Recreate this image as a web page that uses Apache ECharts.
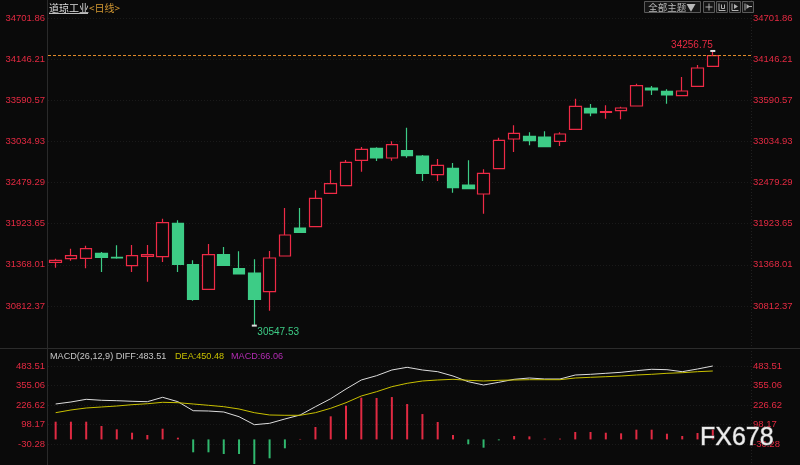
<!DOCTYPE html>
<html><head><meta charset="utf-8">
<script src="https://cdn.jsdelivr.net/npm/echarts@6/dist/echarts.min.js"></script>
<style>html,body{margin:0;padding:0;background:#0a0a0a}#c{width:800px;height:465px}</style>
</head><body><div id="c"></div><script>
// ---- data ----
const open  = [31402.6, 31451.2, 31456.6, 31524.1, 31470.1, 31356.6, 31483.6, 31478.2, 31929.3, 31370.2, 31037.9, 31505.2, 31316.2, 31258.1, 31005.6, 31487.7, 31865.9, 31883.4, 32334.5, 32437.1, 32780.1, 32942.2, 32811.2, 32909.8, 32838.2, 32585.6, 32672.1, 32446.6, 32325.0, 32666.7, 33067.8, 33104.3, 33094.8, 33036.7, 33198.8, 33482.4, 33428.4, 33449.9, 33513.4, 33756.5, 33711.9, 33652.5, 33779.5, 34049.6];
const close = [31429.6, 31491.7, 31586.3, 31470.1, 31460.6, 31491.7, 31505.2, 31937.4, 31375.6, 30902.9, 31505.2, 31362.1, 31244.6, 30902.9, 31460.6, 31771.3, 31807.8, 32267.0, 32464.1, 32753.1, 32928.6, 32811.2, 32990.8, 32842.2, 32604.6, 32712.6, 32410.1, 32396.6, 32604.6, 33050.2, 33144.8, 33044.8, 32963.8, 33135.3, 33509.4, 33418.9, 33436.5, 33486.4, 33787.6, 33729.5, 33662.0, 33716.0, 34026.6, 34192.7];
const low   = [31329.7, 31424.2, 31321.5, 31271.6, 31451.2, 31271.6, 31140.6, 31406.6, 31271.6, 30884.0, 31030.0, 31355.0, 31240.0, 30547.53, 30749.0, 31480.0, 31800.0, 31875.0, 32330.0, 32430.0, 32626.2, 32770.7, 32774.7, 32815.3, 32500.6, 32500.6, 32342.6, 32390.0, 32058.9, 32660.0, 32892.2, 32982.7, 32960.0, 32973.3, 33195.0, 33374.3, 33341.9, 33333.8, 33510.0, 33662.0, 33544.5, 33648.0, 33775.0, 34045.0];
const high  = [31451.2, 31586.3, 31626.8, 31541.7, 31632.2, 31636.3, 31636.3, 31991.4, 31969.8, 31429.6, 31649.7, 31609.3, 31551.2, 31443.2, 31555.2, 32135.9, 32135.9, 32375.0, 32649.1, 32784.2, 32959.8, 32955.7, 33036.7, 33220.4, 32851.7, 32797.7, 32743.7, 32780.1, 32658.6, 33085.4, 33252.8, 33158.2, 33171.8, 33158.2, 33612.0, 33540.4, 33522.9, 33504.0, 33814.6, 33783.5, 33739.0, 33905.1, 34067.1, 34256.75];

const diff = [233.2, 246.4, 264, 257.6, 255, 251, 248.4, 277.3, 248.4, 189, 187, 180.5, 149.5, 96.9, 106, 134.4, 160.8, 215.4, 268, 332, 391.3, 419.6, 457.2, 474.9, 457.2, 446, 417.6, 380.1, 358.4, 376.1, 395.9, 404.5, 397.9, 397.9, 424.2, 428.8, 435.4, 442, 452.6, 461.8, 459.2, 446, 463.7, 483.51];
const dea  = [176, 193.7, 206.9, 213.5, 220, 228.6, 235, 244.4, 241.8, 233.2, 224.6, 215.4, 200.3, 176, 160.8, 158.8, 158.8, 176, 204.9, 241.8, 285.9, 314.2, 347.2, 369.5, 384.7, 391.3, 395.9, 389.3, 384.7, 389.3, 391.3, 393.3, 393.3, 393.3, 404.5, 409, 413, 417.6, 424.2, 428.8, 435.4, 439.4, 446, 450.48];
const macd = [116.6, 116.6, 116.6, 88.3, 66.5, 44.1, 29, 70.5, 11.2, -85, -85, -96, -96, -162, -124.5, -58.6, 3, 81.7, 152, 222, 275, 273, 279, 233, 167, 114.6, 29, -32, -54.6, -6, 22.4, 20, 5, 5, 48.7, 48.7, 44, 40, 64, 64, 37.5, 22.4, 42, 66.06];

const priceTicks = [30812.37, 31368.01, 31923.65, 32479.29, 33034.93, 33590.57, 34146.21, 34701.86];
const macdTicks  = [-30.28, 98.17, 226.62, 355.06, 483.51];

const titleName = '道琼工业';
const periodName = '<日线>';
const macdName = 'MACD(26,12,9)';
const themeButton = '全部主题▼';
const watermark = 'FX678';

// ---- build ----
const categories = open.map((_, i) => 'K' + (i + 1)).concat(['P1', 'P2']);
const candleData = open.map((o, i) => [o, close[i], low[i], high[i]]);

const RED = '#ee2a46', GREEN = '#3dcc86', LBL = '#e42a42', ORANGE = '#e08a2a';
const FONT = 'Liberation Sans, Arial, sans-serif';

function yAx(grid, pos, min, max, ticks, split) {
  return {
    type: 'value', gridIndex: grid, position: pos, min: min, max: max, scale: true,
    axisLine: { show: false },
    axisTick: { show: false, customValues: ticks },
    axisLabel: { customValues: ticks, color: LBL, fontSize: 9.5, fontFamily: FONT,
      margin: pos === 'left' ? 3 : 2, formatter: v => v.toFixed(2) },
    splitLine: { show: split, lineStyle: { color: '#1a1a1a', type: [1, 2], width: 1 } }
  };
}

const chart = echarts.init(document.getElementById('c'), null, { renderer: 'canvas' });
const last = open.length - 1;

const option = {
  backgroundColor: '#0a0a0a',
  animation: false,
  grid: [
    { left: 48, right: 49, top: 12, height: 328 },
    { left: 48, right: 49, top: 352, height: 113 }
  ],
  xAxis: [0, 1].map(g => ({
    type: 'category', gridIndex: g, data: categories, boundaryGap: true,
    axisLine: { show: false }, axisTick: { show: false }, axisLabel: { show: false }, splitLine: { show: false }
  })),
  yAxis: [
    yAx(0, 'left', 30353.25, 34782.9, priceTicks, true),
    yAx(0, 'right', 30353.25, 34782.9, priceTicks, false),
    yAx(1, 'left', -168.6, 575.7, macdTicks, true),
    yAx(1, 'right', -168.6, 575.7, macdTicks, false)
  ],
  series: [
    {
      type: 'candlestick', xAxisIndex: 0, yAxisIndex: 0, data: candleData, barWidth: 12,
      itemStyle: { color: '#0a0a0a', color0: GREEN, borderColor: RED, borderColor0: GREEN, borderWidth: 1.2 },
      markPoint: {
        symbol: 'rect', symbolSize: [5, 2], itemStyle: { color: '#dddddd' },
        data: [
          { type: 'max', valueDim: 'highest',
            label: { show: true, position: 'inside', align: 'right', offset: [0, -6], color: LBL,
              fontSize: 10, fontFamily: FONT, formatter: p => Number(p.value).toFixed(2) } },
          { type: 'min', valueDim: 'lowest',
            label: { show: true, position: 'inside', align: 'left', offset: [3, 7], color: GREEN,
              fontSize: 10, fontFamily: FONT, formatter: p => Number(p.value).toFixed(2) } }
        ]
      },
      markLine: {
        silent: true, symbol: ['none', 'none'], label: { show: false },
        lineStyle: { color: ORANGE, type: [3, 2], width: 1, opacity: 1 },
        itemStyle: { color: ORANGE },
        emphasis: { disabled: true },
        data: [{ yAxis: close[last], lineStyle: { color: ORANGE, type: [3, 2], width: 1 }, itemStyle: { color: ORANGE } }]
      }
    },
    {
      type: 'bar', name: 'MACD', xAxisIndex: 1, yAxisIndex: 2, data: macd, barWidth: 2,
      itemStyle: { color: p => (p.value >= 0 ? '#e02a42' : '#30b86e') }
    },
    {
      type: 'line', name: 'DIFF', xAxisIndex: 1, yAxisIndex: 2, data: diff, showSymbol: false,
      lineStyle: { color: '#dcdcdc', width: 1 }, itemStyle: { color: '#dcdcdc' }
    },
    {
      type: 'line', name: 'DEA', xAxisIndex: 1, yAxisIndex: 2, data: dea, showSymbol: false,
      lineStyle: { color: '#c8c000', width: 1 }, itemStyle: { color: '#c8c000' }
    }
  ],
  graphic: [
    // frame lines
    { type: 'line', shape: { x1: 47.5, y1: 0, x2: 47.5, y2: 465 }, style: { stroke: '#2a2a2a', lineWidth: 1 }, silent: true },
    { type: 'line', shape: { x1: 751.5, y1: 0, x2: 751.5, y2: 465 }, style: { stroke: '#202020', lineWidth: 1, lineDash: [1, 2] }, silent: true },
    { type: 'line', shape: { x1: 0, y1: 348.5, x2: 800, y2: 348.5 }, style: { stroke: '#2c2c2c', lineWidth: 1 }, silent: true },
    // title
    { type: 'text', x: 49, y: 8, silent: true,
      style: { text: '{a|' + titleName + '}{b|' + periodName + '}', textVerticalAlign: 'middle',
        rich: { a: { fill: '#dcdcdc', fontSize: 10, fontFamily: 'Noto Sans CJK SC' },
                b: { fill: '#d69a32', fontSize: 10, fontFamily: 'Noto Sans CJK SC' } } } },
    { type: 'line', shape: { x1: 49, y1: 13.5, x2: 88, y2: 13.5 }, style: { stroke: '#bdbdbd', lineWidth: 1 }, silent: true },
    // top-right buttons
    { type: 'rect', shape: { x: 644.5, y: 1.5, width: 56, height: 11 }, style: { fill: '#151515', stroke: '#5a5a5a', lineWidth: 1 }, silent: true },
    { type: 'text', x: 672, y: 7.5, silent: true,
      style: { text: themeButton, fill: '#b8b8b8', fontSize: 9.5, fontFamily: 'Noto Sans CJK SC', textAlign: 'center', textVerticalAlign: 'middle' } },
    { type: 'rect', shape: { x: 703.5, y: 1.5, width: 11, height: 11 }, style: { fill: '#151515', stroke: '#5a5a5a', lineWidth: 1 }, silent: true },
    { type: 'rect', shape: { x: 716.5, y: 1.5, width: 11, height: 11 }, style: { fill: '#151515', stroke: '#5a5a5a', lineWidth: 1 }, silent: true },
    { type: 'rect', shape: { x: 729.5, y: 1.5, width: 11, height: 11 }, style: { fill: '#151515', stroke: '#5a5a5a', lineWidth: 1 }, silent: true },
    { type: 'rect', shape: { x: 742.5, y: 1.5, width: 11, height: 11 }, style: { fill: '#151515', stroke: '#5a5a5a', lineWidth: 1 }, silent: true },
    { type: 'polyline', shape: { points: [[705.5, 7], [712.5, 7]] }, style: { stroke: '#b0b0b0', lineWidth: 1 }, silent: true },
    { type: 'polyline', shape: { points: [[709, 3.5], [709, 10.5]] }, style: { stroke: '#b0b0b0', lineWidth: 1 }, silent: true },
    { type: 'polyline', shape: { points: [[719, 3.5], [719, 10.5], [725.5, 10.5]] }, style: { stroke: '#b0b0b0', lineWidth: 1 }, silent: true },
    { type: 'polyline', shape: { points: [[721.5, 4.5], [721.5, 8.5], [724.5, 8.5], [724.5, 4.5]] }, style: { stroke: '#b0b0b0', lineWidth: 1 }, silent: true },
    { type: 'polyline', shape: { points: [[732, 3.5], [732, 10.5], [738.5, 10.5]] }, style: { stroke: '#b0b0b0', lineWidth: 1 }, silent: true },
    { type: 'polygon', shape: { points: [[734, 4], [734, 9], [738, 6.5]] }, style: { fill: '#b0b0b0' }, silent: true },
    { type: 'polyline', shape: { points: [[745, 3.5], [745, 10.5]] }, style: { stroke: '#b0b0b0', lineWidth: 1 }, silent: true },
    { type: 'polygon', shape: { points: [[746.5, 4], [746.5, 9], [750, 6.5]] }, style: { fill: '#b0b0b0' }, silent: true },
    { type: 'polyline', shape: { points: [[749, 6.5], [752, 6.5]] }, style: { stroke: '#b0b0b0', lineWidth: 1 }, silent: true },
    // MACD legend
    { type: 'text', x: 50, y: 356, silent: true,
      style: { text: macdName + ' DIFF:' + diff[last].toFixed(2), fill: '#c8c8c8', fontSize: 9.1, fontFamily: FONT, textVerticalAlign: 'middle' } },
    { type: 'text', x: 175, y: 356, silent: true,
      style: { text: 'DEA:' + dea[last].toFixed(2), fill: '#c8c000', fontSize: 9.1, fontFamily: FONT, textVerticalAlign: 'middle' } },
    { type: 'text', x: 231, y: 356, silent: true,
      style: { text: 'MACD:' + macd[last].toFixed(2), fill: '#b42cb4', fontSize: 9.1, fontFamily: FONT, textVerticalAlign: 'middle' } },
    // watermark
    { type: 'text', x: 700, y: 438, z: 100, silent: true,
      style: { text: watermark, fill: '#ececec', stroke: '#707070', lineWidth: 1, fontSize: 25, fontFamily: FONT, textVerticalAlign: 'middle' } }
  ]
};
chart.setOption(option);
</script></body></html>
